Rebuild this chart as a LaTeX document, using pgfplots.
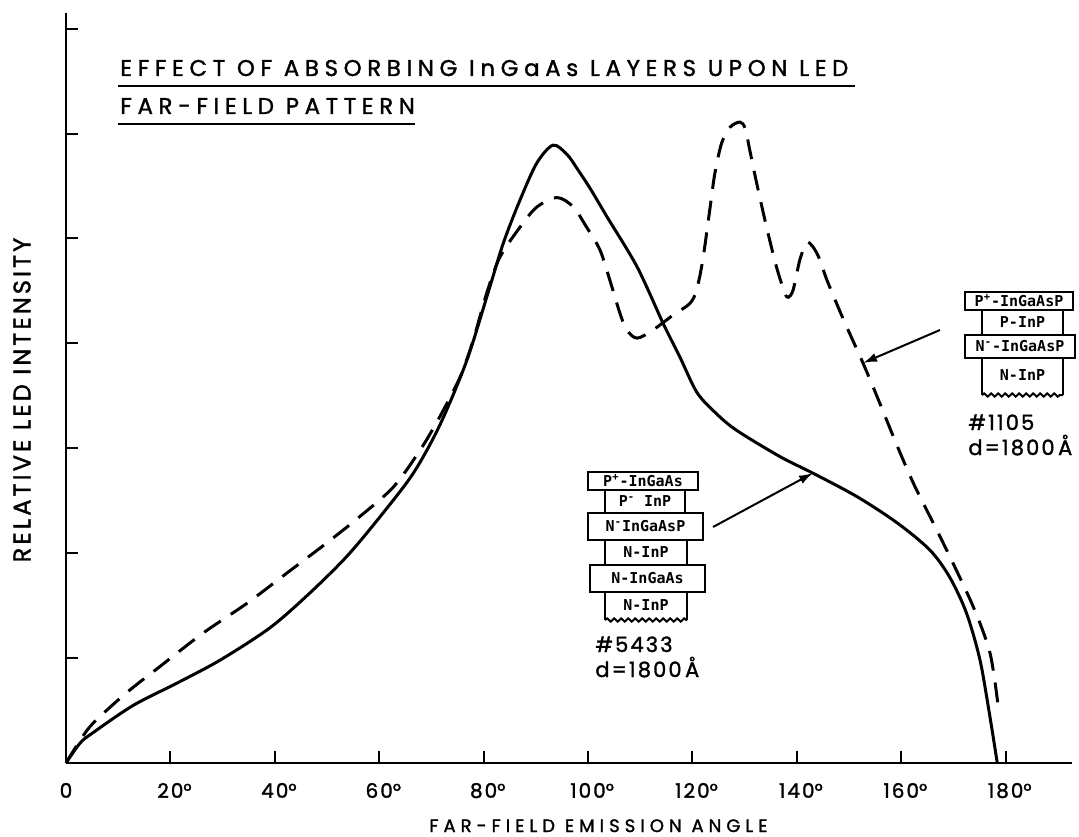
\documentclass[border=0pt]{standalone}
\usepackage{fontspec}
\setmainfont{Poppins}
\newfontfamily\titlefont[LetterSpace=25, FakeBold=1.5]{Poppins}
\newfontfamily\tickfontfam[LetterSpace=10, FakeBold=1.5]{Poppins}
\newfontfamily\labfontfam[LetterSpace=28, FakeBold=1.5]{Poppins}
\newfontfamily\ylabfontfam[LetterSpace=13, FakeBold=1.5]{Poppins}
\newfontfamily\numfontfam[LetterSpace=10, FakeBold=1.5]{Poppins}
\newfontfamily\boxfontfam{DejaVu Sans Mono}
\newcommand{\tickfont}{\fontsize{10}{12}\tickfontfam}
\newcommand{\labfont}{\fontsize{9}{11}\labfontfam}
\newcommand{\ylabfont}{\fontsize{12}{14}\ylabfontfam}
\newcommand{\numfont}{\fontsize{10.5}{12}\numfontfam}
\newcommand{\boxfont}{\fontsize{7.5}{8}\boxfontfam\bfseries}
\usepackage{pgfplots}
\pgfplotsset{compat=1.18}
\usetikzlibrary{arrows.meta,decorations.pathmorphing}

\begin{document}
\begin{tikzpicture}
\useasboundingbox (-33pt,-36.5pt) rectangle (506.5pt,381.5pt);
\begin{axis}[
  x=2.61pt, y=52.45pt,
  anchor=south west, at={(0pt,0pt)},
  xmin=0, xmax=192.7, ymin=0, ymax=7.15,
  axis lines=left,
  axis line style={-, line width=1.3pt, black},
  clip=false,
  xtick={0,20,...,180},
  xticklabels={0,20\rlap{°},40\rlap{°},60\rlap{°},80\rlap{°},100\rlap{°},120\rlap{°},140\rlap{°},160\rlap{°},180\rlap{°}},
  ytick={1,2,...,7},
  yticklabels={},
  tick align=inside,
  major tick length=6pt,
  tick style={black, line width=1pt},
  xticklabel style={font=\tickfont, yshift=-6.5pt},
  xlabel={\labfont FAR-FIELD EMISSION ANGLE},
  xlabel style={at={(axis cs:102,-0.658)}, anchor=base},
  ylabel={\ylabfont RELATIVE LED INTENSITY},
  ylabel style={at={(axis cs:-8.43,3.46)}, anchor=center},
]
% sample #5433 (absorbing InGaAs layers) - solid
\addplot[black, line width=1.5pt, smooth, tension=0.5] coordinates {
(0,0) (2.7,0.19) (5.2,0.29) (12.9,0.55) (21.2,0.76) (29.5,0.98) (39.1,1.29)
(46.7,1.62) (53.8,1.97) (60.2,2.35) (66.5,2.76) (71.6,3.22) (76.8,3.84)
(81.2,4.54) (83.8,4.96) (87,5.37) (90.2,5.72) (93.3,5.89) (96,5.80)
(98,5.66) (100.5,5.47) (103.6,5.21) (109.4,4.73) (114.4,4.19) (117.6,3.87) (120.9,3.53)
(124.6,3.33) (128.5,3.17) (136.8,2.92) (143.2,2.76) (151.5,2.54) (159.2,2.29)
(165.5,2.03) (169.3,1.77) (172.5,1.43) (175.1,0.98) (177,0.44) (178.4,0)
};
% sample #1105 - dashed
\addplot[black, line width=1.5pt, smooth, tension=0.5, dash pattern=on 10pt off 6pt] coordinates {
(0,0) (2.5,0.2) (5.2,0.38) (11.6,0.67) (18,0.92) (26.3,1.24) (34.6,1.52)
(42.3,1.81) (50,2.10) (56.3,2.35) (62.7,2.63) (67.8,2.98) (71.6,3.30)
(75.5,3.68) (78,4.03) (80.6,4.48) (83.1,4.82) (87,5.11) (90.2,5.30)
(94.1,5.39) (97.2,5.30) (99.7,5.11) (102.3,4.89) (104.2,4.60) (106.1,4.29)
(107.4,4.13) (109.4,4.05) (112.5,4.13) (116.3,4.27) (119.5,4.38) (120.8,4.51)
(122,4.80) (123.4,5.30) (124.3,5.62) (125.6,5.91) (127.2,6.06) (129.1,6.11)
(130.1,6.05) (131,5.84) (132.3,5.53) (134.2,5.11) (136.1,4.73) (137.7,4.48)
(138.4,4.44) (139.3,4.51) (140.6,4.80) (141.9,4.96) (143.1,4.92) (144.4,4.80)
(145.8,4.60) (149,4.22) (152.7,3.81) (155.9,3.43) (159,3.05) (162.3,2.67)
(165,2.40) (168.7,2.03) (173.8,1.49) (177,1.05) (178.5,0.57)
};
\end{axis}

% annotations in pixel coordinates of the reference (x right, y down)
\begin{scope}[shift={(-33pt,381.5pt)}, x=0.5pt, y=-0.5pt]
  % title
  \node[anchor=base west, inner sep=0pt] at (120,76) {\fontsize{11.4}{13}\titlefont EFFECT OF ABSORBING InGaAs LAYERS UPON LED};
  \draw[line width=1.4pt] (118,86) -- (855,86);
  \node[anchor=base west, inner sep=0pt] at (120,114) {\fontsize{11.4}{13}\titlefont FAR-FIELD PATTERN};
  \draw[line width=1.4pt] (118,124) -- (415,124);

  % layer stack #5433
  \tikzset{lay/.style={line width=1pt}, laytxt/.style={inner sep=0pt, font=\boxfont}}
  \draw[lay] (588,472) rectangle (698,490); \node[laytxt] at (643,481) {P\textsuperscript{+}-InGaAs};
  \draw[lay] (605,490) rectangle (685,513); \node[laytxt] at (645,501.5) {P\textsuperscript{-} InP};
  \draw[lay] (588,513) rectangle (703,540); \node[laytxt] at (645.5,526.5) {N\textsuperscript{-}InGaAsP};
  \draw[lay] (605,540) rectangle (687,565); \node[laytxt] at (646,552.5) {N-InP};
  \draw[lay] (590,565) rectangle (705,592); \node[laytxt] at (647.5,578.5) {N-InGaAs};
  \draw[lay] (605,592) -- (605,620); \draw[lay] (687,592) -- (687,620);
  \draw[lay, decorate, decoration={snake, amplitude=0.8pt, segment length=3.5pt}] (605,620) -- (687,620);
  \node[laytxt] at (646,605) {N-InP};
  \node[anchor=base west, inner sep=0pt] at (595,652) {\numfont \#5433};
  \node[anchor=base west, inner sep=0pt] at (595,677) {\numfont d=1800\,Å};
  \draw[line width=1pt, -{Latex[length=7pt,width=4.5pt]}] (713,527) -- (813,473);

  % layer stack #1105
  \draw[lay] (965,292) rectangle (1073,310); \node[laytxt] at (1019,301) {P\textsuperscript{+}-InGaAsP};
  \draw[lay] (982,310) rectangle (1063,335); \node[laytxt] at (1022.5,322.5) {P-InP};
  \draw[lay] (965,335) rectangle (1075,358); \node[laytxt] at (1020,346.5) {N\textsuperscript{-}-InGaAsP};
  \draw[lay] (982,358) -- (982,395); \draw[lay] (1063,358) -- (1063,395);
  \draw[lay, decorate, decoration={snake, amplitude=0.8pt, segment length=3.5pt}] (982,395) -- (1063,395);
  \node[laytxt] at (1022.5,375) {N-InP};
  \node[anchor=base west, inner sep=0pt] at (968,430) {\numfont \#1105};
  \node[anchor=base west, inner sep=0pt] at (968,455) {\numfont d=1800\,Å};
  \draw[line width=1pt, -{Latex[length=7pt,width=4.5pt]}] (940,330) -- (863,363);
\end{scope}
\end{tikzpicture}
\end{document}
